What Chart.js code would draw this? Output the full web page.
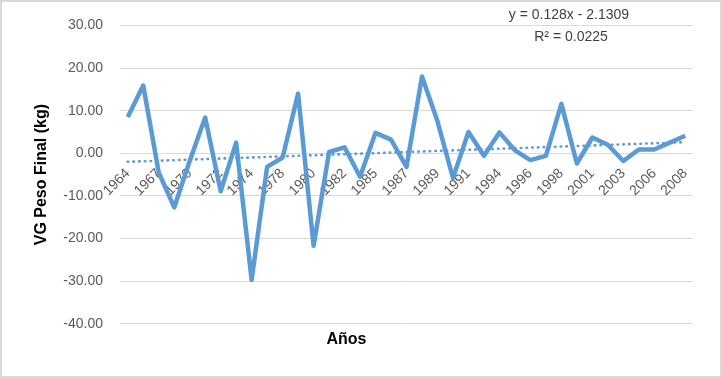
<!DOCTYPE html>
<html lang="es">

<head>
    <meta charset="UTF-8">
    <title>VG Peso Final por año</title>
    <script src="https://cdn.jsdelivr.net/npm/chart.js"></script>
    <style>
        body {
            margin: 0;
            background: #fff;
        }

        #wrap {
            position: relative;
            width: 722px;
            height: 378px;
        }

        #marco {
            position: absolute;
            inset: 0;
            border: 2px solid #d9d9d9;
            pointer-events: none;
        }
    </style>
</head>

<body>
    <div id="wrap">
        <canvas id="pesoChart"></canvas>
        <div id="marco"></div>
    </div>

    <script>
// años (solo se rotula uno de cada dos)
const anos = [
  "1964", "1965", "1967", "1968", "1970", "1971", "1972", "1973", "1974", "1976",
  "1978", "1979", "1980", "1981", "1982", "1984", "1985", "1986", "1987", "1988",
  "1989", "1990", "1991", "1993", "1994", "1995", "1996", "1997", "1998", "2000",
  "2001", "2002", "2003", "2005", "2006", "2007", "2008"
];

// VG peso final (kg)
const vgPeso = [
  8.5, 15.9, -4.5, -12.7, -1.8, 8.4, -8.9, 2.5, -29.7, -3.2,
  -1.0, 14.0, -21.7, 0.3, 1.4, -5.5, 4.8, 3.2, -3.2, 18.0,
  7.5, -5.8, 5.0, -0.6, 4.9, 0.7, -1.6, -0.6, 11.6, -2.4,
  3.7, 2.0, -1.8, 0.9, 0.9, 2.5, 4.1
];

// línea de tendencia lineal mostrada en el gráfico
const pendiente = 0.128;
const intercepto = -2.1309;
const ecuacion = "y = 0.128x - 2.1309";
const r2Texto = "R\u00B2 = 0.0225";

const tendencia = anos.map((_, i) => pendiente * (i + 1) + intercepto);

const azul = "#5b9bd5";

const textoEcuacion = {
  id: 'textoEcuacion',
  afterDraw(chart) {
    const ctx = chart.ctx;
    ctx.save();
    ctx.font = "14px 'Liberation Sans', Arial, sans-serif";
    ctx.fillStyle = "#404040";
    ctx.textAlign = "center";
    ctx.textBaseline = "middle";
    ctx.fillText(ecuacion, 569, 15);
    ctx.fillText(r2Texto, 571, 37);
    ctx.restore();
  }
};

const ctx = document.getElementById('pesoChart').getContext('2d');
new Chart(ctx, {
  type: 'line',
  data: {
    labels: anos,
    datasets: [
      {
        label: 'VG Peso Final',
        data: vgPeso,
        borderColor: azul,
        backgroundColor: azul,
        borderWidth: 4.5,
        borderJoinStyle: 'round',
        pointRadius: 0,
        tension: 0,
        order: 2
      },
      {
        label: 'Tendencia',
        data: tendencia,
        borderColor: azul,
        borderWidth: 2.6,
        borderDash: [0.5, 5.2],
        borderCapStyle: 'round',
        pointRadius: 0,
        tension: 0,
        order: 1
      }
    ]
  },
  options: {
    responsive: true,
    maintainAspectRatio: false,
    animation: false,
    layout: {
      padding: { left: 0, right: 29, top: 22, bottom: 19 }
    },
    plugins: {
      legend: { display: false },
      tooltip: { enabled: false },
      title: {
        display: true,
        position: 'bottom',
        text: 'Años',
        color: '#000',
        font: { family: "'Liberation Sans', Arial, sans-serif", size: 16, weight: 'bold' },
        padding: { top: 6, bottom: 10 }
      }
    },
    scales: {
      x: {
        position: { y: 0 },
        offset: true,
        grid: { display: false, drawTicks: false },
        border: { display: false },
        ticks: {
          autoSkip: false,
          minRotation: 45,
          maxRotation: 45,
          padding: 12,
          color: '#595959',
          font: { family: "'Liberation Sans', Arial, sans-serif", size: 14 },
          callback: function(value, index) {
            return index % 2 === 0 ? this.getLabelForValue(value) : '';
          }
        }
      },
      y: {
        min: -40,
        max: 30,
        afterFit: function(scale) {
          scale.width = 120;
        },
        grid: { color: '#d9d9d9', lineWidth: 1, drawTicks: false },
        border: { display: false },
        ticks: {
          stepSize: 10,
          padding: 17,
          color: '#595959',
          font: { family: "'Liberation Sans', Arial, sans-serif", size: 14 },
          callback: v => v.toFixed(2)
        },
        title: {
          display: true,
          text: 'VG Peso Final (kg)',
          color: '#000',
          font: { family: "'Liberation Sans', Arial, sans-serif", size: 16, weight: 'bold' },
          padding: { top: 32, bottom: 0 }
        }
      }
    }
  },
  plugins: [textoEcuacion]
});
    </script>
</body>

</html>
